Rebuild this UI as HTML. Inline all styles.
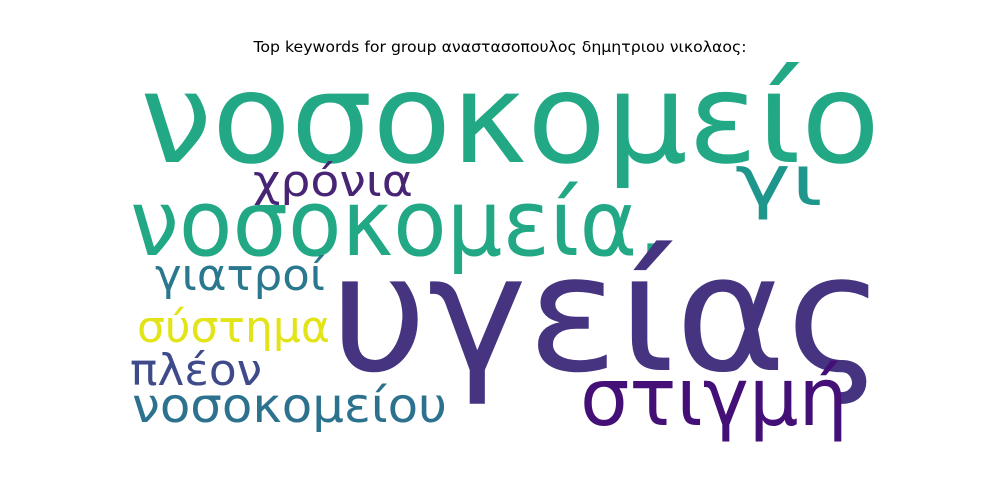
<!DOCTYPE html>
<html><head><meta charset="utf-8"><style>
html,body{margin:0;padding:0;background:#fff;width:1000px;height:500px;overflow:hidden}
svg text{font-family:"DejaVu Sans","Liberation Sans",sans-serif}
</style></head><body>
<svg width="1000" height="500" viewBox="0 0 1000 500">
<rect width="1000" height="500" fill="#fff"/>
<text x="500" y="52" text-anchor="middle" font-size="15" fill="#000" textLength="493" lengthAdjust="spacingAndGlyphs">Top keywords for group αναστασοπουλος δημητριου νικολαος:</text>
<g id="words"></g>
</svg>
<script>
const words = ["νοσοκομείο","γι","χρόνια","νοσοκομεία,","γιατροί","υγείας","σύστημα","πλέον","νοσοκομείου","στιγμή"];
const weights = [125,70,44,92,44,162,44,44,48,80];
const colors = ["#22a884","#1f968b","#482475","#22a884","#2a788e","#463480","#e2e418","#3e4a89","#2c728e","#440f76"];
const layoutX = [140,735,253,130,155,330,137,130,132,580];
const layoutY = [162,205,196,255,290,370,342,385,422,425];
const layoutW = [740,88,160,535,170,555,193,132,315,268];
const g = document.getElementById('words');
for (let i = 0; i < words.length; i++) {
  const t = document.createElementNS('http://www.w3.org/2000/svg','text');
  t.setAttribute('x', layoutX[i]);
  t.setAttribute('y', layoutY[i]);
  t.setAttribute('font-size', weights[i]);
  t.setAttribute('fill', colors[i]);
  t.setAttribute('textLength', layoutW[i]);
  t.setAttribute('lengthAdjust', 'spacingAndGlyphs');
  t.textContent = words[i];
  
  
  g.appendChild(t);
}
</script>
</body></html>
